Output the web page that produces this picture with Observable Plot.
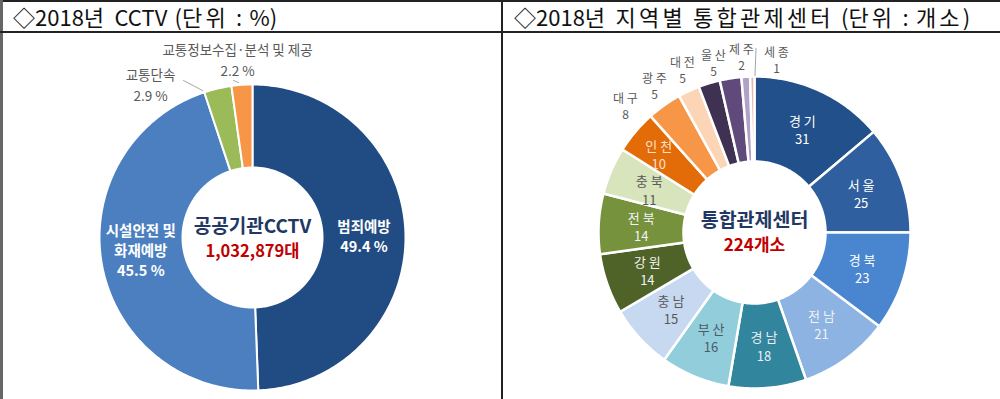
<!DOCTYPE html>
<html><head><meta charset="utf-8">
<script src="https://cdn.jsdelivr.net/npm/d3@7"></script>
<script src="https://cdn.jsdelivr.net/npm/@observablehq/plot@0.6"></script>
<style>
body{margin:0;background:#fff;font-family:"Noto Sans CJK KR","Noto Sans",sans-serif;}
#wrap{position:relative;width:1000px;height:399px;overflow:hidden;background:#fff;}
.bt{position:absolute;left:0;top:0;width:1000px;height:2px;background:#222;}
.bl{position:absolute;left:0;top:0;width:3px;height:399px;background:#666;}
.bh{position:absolute;left:0;top:31px;width:1000px;height:2px;background:#222;}
.bv{position:absolute;left:501px;top:0;width:1.5px;height:399px;background:#222;}
.title{position:absolute;top:2px;height:29px;line-height:29px;font-size:22px;color:#111;white-space:nowrap;word-spacing:2.3px;}
.title .h{letter-spacing:3.2px;}
#p1{position:absolute;left:0;top:33px;}
#p2{position:absolute;left:502px;top:33px;}
</style></head>
<body><div id="wrap">
<div class="bt"></div><div class="bl"></div><div class="bh"></div><div class="bv"></div>
<div class="title" id="t1" style="left:13px"></div>
<div class="title" id="t2" style="left:514px"></div>
<div id="p1"></div><div id="p2"></div>
</div>
<script>
// ---- data ----
const leftTitle = "◇2018년 CCTV (단위 : %)";
const rightTitle = "◇2018년 지역별 통합관제센터 (단위 : 개소)";
const cctvTitle = "공공기관CCTV";
const cctvTotal = 1032879;
const cctvCategories = ["범죄예방", "시설안전 및\n화재예방", "교통단속", "교통정보수집·분석 및 제공"];
const cctvShares = [49.4, 45.5, 2.9, 2.2];
const centerTitle = "통합관제센터";
const regions = ["경기","서울","경북","전남","경남","부산","충남","강원","전북","충북","인천","대구","광주","대전","울산","제주","세종"];
const centerCounts = [31,25,23,21,18,16,15,14,14,11,10,8,5,5,5,2,1];

// ---- styles ----
const cctvColors = ["#214c83","#4b7fc0","#9bbb59","#f79646"];
const regionColors = ["#21508a","#2f5f9e","#4a86d0","#8db3e2","#31859c","#92cddc","#c6d9f1","#4f6228","#76923c","#d7e4bc","#e36c09","#f79646","#fbd5b5","#3f3151","#604a7b","#b2a1c7","#e6b9b8"];
const regionTextColors = ["#fff","#fff","#fff","#f2f2f2","#e8eef2","#4d5b66","#595959","#f2f2f2","#f2f2f2","#595959","#fde3cf"];
const FONT = '"Noto Sans CJK KR","Noto Sans",sans-serif';

// titles (Hangul runs get wider tracking to mimic the original font)
const wrapHangul = s => s.replace(/([가-힣]+)/g, '<span class="h">$1</span>');
document.getElementById("t1").innerHTML = wrapHangul(leftTitle);
document.getElementById("t2").innerHTML = wrapHangul(rightTitle);

// ---- helpers ----
function ring(names, values, rIn, rOut) {
  const total = d3.sum(values);
  const pts = [], arcs = [];
  let acc = 0;
  names.forEach((name, i) => {
    const a0 = acc / total * 2 * Math.PI; acc += values[i];
    const a1 = acc / total * 2 * Math.PI;
    arcs.push({i, name, value: values[i], a0, a1, mid: (a0 + a1) / 2});
    const n = Math.max(2, Math.ceil((a1 - a0) / (Math.PI / 180)));
    const poly = [];
    for (let k = 0; k <= n; k++) { const a = a0 + (a1 - a0) * k / n; poly.push({name, x: rOut * Math.sin(a), y: rOut * Math.cos(a)}); }
    for (let k = n; k >= 0; k--) { const a = a0 + (a1 - a0) * k / n; poly.push({name, x: rIn * Math.sin(a), y: rIn * Math.cos(a)}); }
    poly.push(poly[0]);
    pts.push(...poly);
  });
  return {pts, arcs};
}

// ---- left: CCTV ----
{
  const rIn = 70, rOut = 153;
  const {pts, arcs} = ring(cctvCategories, cctvShares, rIn, rOut);
  const fmt = d => d.toFixed(1) + " %";
  const inner = arcs.slice(0, 2).map(a => ({
    x: (rIn + rOut) / 2 * Math.sin(a.mid) + (a.i === 1 ? -2 : 0),
    y: (rIn + rOut) / 2 * Math.cos(a.mid) + (a.i === 1 ? 8 : 0),
    text: a.name + "\n" + fmt(a.value)
  }));
  const outsidePos = [[-102, 154], [-15, 179]]; // layout offsets for small slices
  const outside = arcs.slice(2).map((a, k) => ({x: outsidePos[k][0], y: outsidePos[k][1], text: a.name + "\n" + fmt(a.value)}));
  const leaders = [
    {g: 0, x: -69, y: 157}, {g: 0, x: -50, y: 147},
    {g: 1, x: -19, y: 157}, {g: 1, x: -14, y: 155}
  ];
  const p = Plot.plot({
    width: 500, height: 366, margin: 0,
    x: {domain: [-252, 248], axis: null},
    y: {domain: [-162, 204], axis: null},
    color: {type: "ordinal", domain: cctvCategories, range: cctvColors},
    style: {fontFamily: FONT, background: "transparent"},
    marks: [
      Plot.line(pts, {x: "x", y: "y", z: "name", fill: "name", stroke: "white", strokeWidth: 2, curve: "linear"}),
      Plot.line(leaders, {x: "x", y: "y", z: "g", stroke: "#a6a6a6", strokeWidth: 1}),
      Plot.text(inner, {x: "x", y: "y", text: "text", fill: "white", fontSize: 14.5, fontWeight: "bold", lineHeight: 1.4}),
      Plot.text(outside, {x: "x", y: "y", text: "text", fill: "#595959", fontSize: 13.5, lineHeight: 1.55}),
      Plot.text([{x: 0, y: 0}], {x: "x", y: "y", text: () => cctvTitle, dy: -11, fill: "#1f3864", fontSize: 19, fontWeight: "bold"}),
      Plot.text([{x: 0, y: 0}], {x: "x", y: "y", text: () => d3.format(",")(cctvTotal) + "대", dy: 14, fill: "#c00000", fontSize: 16.5, fontWeight: "bold"})
    ]
  });
  document.getElementById("p1").appendChild(p);
}

// ---- right: integrated control centers ----
{
  const rIn = 71, rOut = 156;
  const {pts, arcs} = ring(regions, centerCounts, rIn, rOut);
  const spaced = s => s.split("").join(" ");
  const innerNudge = {10: [-9, 5], 9: [-1, -2]}; // layout tweaks (px)
  const inner = arcs.slice(0, 11).map(a => ({
    x: (rIn + rOut) / 2 * Math.sin(a.mid) + (innerNudge[a.i] ? innerNudge[a.i][0] : 0),
    y: (rIn + rOut) / 2 * Math.cos(a.mid) + (innerNudge[a.i] ? innerNudge[a.i][1] : 0),
    text: spaced(a.name) + "\n" + a.value,
    tc: regionTextColors[a.i]
  }));
  const outsidePos = [[-129, 127], [-100, 147], [-72, 163], [-41, 170], [-13, 176], [22, 173]]; // layout offsets
  const outside = arcs.slice(11).map((a, k) => ({x: outsidePos[k][0], y: outsidePos[k][1], text: spaced(a.name) + "\n" + a.value}));
  const leaders = [{x: 1.5, y: 184}, {x: 0.5, y: 157}];
  const tcs = Array.from(new Set(inner.map(d => d.tc)));
  const p = Plot.plot({
    width: 498, height: 366, margin: 0,
    x: {domain: [-252, 246], axis: null},
    y: {domain: [-167, 199], axis: null},
    color: {type: "ordinal", domain: regions, range: regionColors},
    style: {fontFamily: FONT, background: "transparent"},
    marks: [
      Plot.line(pts, {x: "x", y: "y", z: "name", fill: "name", stroke: "white", strokeWidth: 2.5, curve: "linear"}),
      Plot.line(leaders, {x: "x", y: "y", stroke: "#a6a6a6", strokeWidth: 1}),
      ...tcs.map(c => Plot.text(inner.filter(d => d.tc === c), {x: "x", y: "y", text: "text", fill: c, fontSize: 13, lineHeight: 1.4})),
      Plot.text(outside, {x: "x", y: "y", text: "text", fill: "#595959", fontSize: 12, lineHeight: 1.35}),
      Plot.text([{x: 0, y: 0}], {x: "x", y: "y", text: () => centerTitle, dy: -12, fill: "#1f3864", fontSize: 19.5, fontWeight: "bold"}),
      Plot.text([{x: 0, y: 0}], {x: "x", y: "y", text: () => d3.sum(centerCounts) + "개소", dy: 13, fill: "#c00000", fontSize: 17, fontWeight: "bold"})
    ]
  });
  document.getElementById("p2").appendChild(p);
}
</script>
</body></html>
